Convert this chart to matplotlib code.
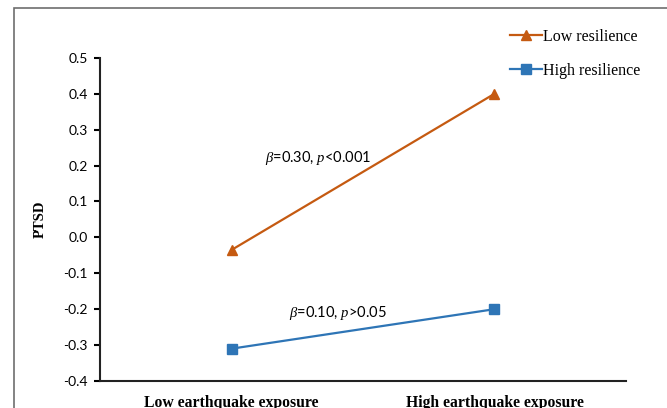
import matplotlib
matplotlib.use('Agg')
import matplotlib.pyplot as plt
from matplotlib.patches import Rectangle

# data
exposure = ['Low earthquake exposure', 'High earthquake exposure']
low_resilience = [-0.035, 0.40]
high_resilience = [-0.31, -0.20]
yticks = [0.5, 0.4, 0.3, 0.2, 0.1, 0.0, -0.1, -0.2, -0.3, -0.4]

plt.rcParams['mathtext.fontset'] = 'custom'
plt.rcParams['mathtext.rm'] = 'Lato'
plt.rcParams['mathtext.it'] = 'Liberation Serif:italic'

fig = plt.figure(figsize=(6.67, 4.08), dpi=100)
ax = fig.add_axes([0.150, 0.0662, 0.7885, 0.792])

# outer frame
fig.patches.append(Rectangle((14 / 667, -0.1), 1.2, 1 - 8 / 408 + 0.1,
                             transform=fig.transFigure, fill=False,
                             edgecolor='#6e6e6e', linewidth=1.2))

x = [0, 1]
ax.plot(x, low_resilience, color='#C55A11', marker='^', markersize=7,
        linewidth=1.6, label='Low resilience')
ax.plot(x, high_resilience, color='#2E75B6', marker='s', markersize=6.5,
        linewidth=1.6, label='High resilience')

ax.set_xlim(-0.5, 1.5)
ax.set_ylim(-0.4, 0.5)
ax.set_yticks(yticks)
ax.set_yticklabels(['%.1f' % v for v in yticks], family='Lato', fontsize=10)
ax.set_xticks(x)
ax.set_xticklabels(exposure, family='Liberation Serif', fontweight='bold', fontsize=11.3)
ax.tick_params(axis='x', length=0, pad=10)
ax.tick_params(axis='y', direction='out', length=4, width=1.5, pad=5)
for s in ['top', 'right']:
    ax.spines[s].set_visible(False)
for s in ['left', 'bottom']:
    ax.spines[s].set_linewidth(1.5)
    ax.spines[s].set_color('#222222')

ax.set_ylabel('PTSD', family='Liberation Serif', fontweight='bold', fontsize=10.5, labelpad=12)

ax.text(0.33, 0.22, r'$\beta$=0.30, $p$<0.001', family='Lato', fontsize=10.5,
        ha='center', va='center')
ax.text(0.405, -0.21, r'$\beta$=0.10, $p$>0.05', family='Lato', fontsize=10.5,
        ha='center', va='center')

fig.legend(loc='upper left', bbox_to_anchor=(0.743, 0.965), frameon=False,
           prop={'family': 'Liberation Serif', 'size': 11.5},
           handlelength=2.0, handletextpad=0.1, labelspacing=1.15)

fig.savefig('out.png', dpi=100)
